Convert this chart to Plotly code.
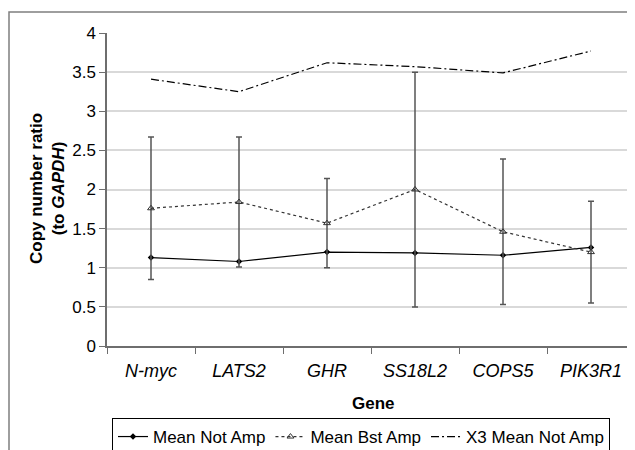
import plotly.graph_objects as go

# ─── DATA ────────────────────────────────────────────────────────────────────
genes = ["N-myc", "LATS2", "GHR", "SS18L2", "COPS5", "PIK3R1"]
gene_labels = [f"<i>{g}</i>" for g in genes]

mean_not_amp = [1.13, 1.08, 1.20, 1.19, 1.16, 1.26]
mean_bst_amp = [1.76, 1.84, 1.57, 2.00, 1.46, 1.20]
bst_amp_err = [0.91, 0.83, 0.57, 1.50, 0.93, 0.65]
x3_mean_not_amp = [3.41, 3.25, 3.62, 3.57, 3.49, 3.77]

y_ticks = [0, 0.5, 1, 1.5, 2, 2.5, 3, 3.5, 4]

FONT = "Liberation Sans, Arial, sans-serif"
INK = "#000000"
AXIS = "#6e6e6e"
GRID = "#d9d9d9"

# the page body has an 8px margin, so the figure is shrunk by that much
OFF = 8
W, H = 635 - OFF, 450 - OFF
# plot area in window pixels: left 107, right 635, top 33, bottom 346
L, T = 107 - OFF, 33 - OFF
R, B = 0, H - (346 - OFF)
PW, PH = W - L - R, H - T - B


def px_x(p):
    return (p - OFF - L) / PW


def px_y(p):
    return (H - B - (p - OFF)) / PH


fig = go.Figure()

fig.add_trace(go.Scatter(
    x=gene_labels, y=mean_not_amp, mode="lines+markers", name="Mean Not Amp",
    line=dict(color=INK, width=1.2),
    marker=dict(symbol="diamond", size=5, color=INK),
))
fig.add_trace(go.Scatter(
    x=gene_labels, y=mean_bst_amp, mode="lines+markers", name="Mean Bst Amp",
    line=dict(color="#333333", width=1.2, dash="dot"),
    marker=dict(symbol="triangle-up-open", size=6, color="#333333", line=dict(width=1)),
    error_y=dict(type="data", array=bst_amp_err, visible=True,
                 color="#555555", thickness=1.5, width=3),
))
fig.add_trace(go.Scatter(
    x=gene_labels, y=x3_mean_not_amp, mode="lines", name="X3 Mean Not Amp",
    line=dict(color=INK, width=1.2, dash="8px,3px,2px,3px"),
))

# outer chart border (extends beyond the window to the right and bottom)
fig.add_shape(type="rect", xref="paper", yref="paper",
              x0=px_x(9), x1=px_x(650), y0=px_y(480), y1=px_y(12),
              line=dict(color="#7f7f7f", width=1.5), layer="below")

# y axis title (two lines)
fig.add_annotation(
    text="<b>Copy number ratio</b><br><b>(to <i>GAPDH</i>)</b>",
    xref="paper", yref="paper", x=px_x(47), y=px_y(189),
    xanchor="center", yanchor="middle",
    textangle=-90, showarrow=False, font=dict(family=FONT, size=17, color=INK),
)
# x axis title
fig.add_annotation(
    text="<b>Gene</b>", xref="paper", yref="paper", x=px_x(373), y=px_y(403),
    xanchor="center", yanchor="middle",
    showarrow=False, font=dict(family=FONT, size=17, color=INK),
)

fig.update_layout(
    width=W, height=H,
    margin=dict(l=L, r=R, t=T, b=B, autoexpand=False),
    paper_bgcolor="white", plot_bgcolor="white",
    font=dict(family=FONT, size=16, color=INK),
    showlegend=True,
    legend=dict(
        orientation="h", x=px_x(112), y=px_y(418), xanchor="left", yanchor="top",
        bordercolor=INK, borderwidth=1, font=dict(size=17),
        tracegroupgap=0, itemwidth=30,
    ),
)
fig.update_xaxes(
    type="category", range=[-0.5, 5.5],
    showline=True, linecolor=AXIS, linewidth=1.5,
    ticks="outside", tickson="boundaries", ticklen=6, tickcolor=AXIS,
    showgrid=False, tickfont=dict(size=18), ticklabelstandoff=8,
)
fig.update_yaxes(
    range=[0, 4], tickvals=y_ticks, ticktext=[f"{v:g}" for v in y_ticks],
    showline=True, linecolor=AXIS, linewidth=1.5,
    ticks="outside", ticklen=6, tickcolor=AXIS,
    showgrid=True, gridcolor=GRID, gridwidth=1.5, zeroline=False,
    tickfont=dict(size=17),
)

fig.write_html("out.html")
